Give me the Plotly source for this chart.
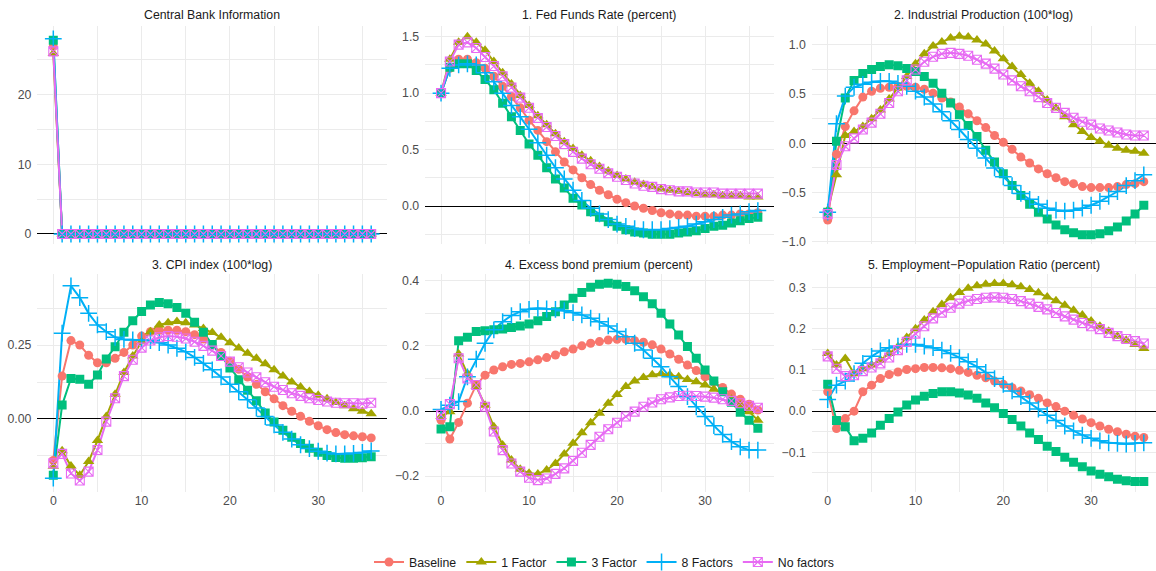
import plotly.graph_objects as go

# ---------------- data ----------------
horizon = list(range(37))
series_names = ["Baseline", "1 Factor", "3 Factor", "8 Factors", "No factors"]
panel_titles = ["Central Bank Information", "1. Fed Funds Rate (percent)",
                "2. Industrial Production (100*log)", "3. CPI index (100*log)",
                "4. Excess bond premium (percent)", "5. Employment\u2212Population Ratio (percent)"]

# Central Bank Information
cbi_base = [26.9, 0.0, 0.0, 0.0, 0.0, 0.0, 0.0, 0.0, 0.0, 0.0, 0.0, 0.0, 0.0, 0.0, 0.0, 0.0, 0.0, 0.0, 0.0,
            0.0, 0.0, 0.0, 0.0, 0.0, 0.0, 0.0, 0.0, 0.0, 0.0, 0.0, 0.0, 0.0, 0.0, 0.0, 0.0, 0.0, 0.0]
cbi_f1 = [25.9, 0.0, 0.0, 0.0, 0.0, 0.0, 0.0, 0.0, 0.0, 0.0, 0.0, 0.0, 0.0, 0.0, 0.0, 0.0, 0.0, 0.0, 0.0,
          0.0, 0.0, 0.0, 0.0, 0.0, 0.0, 0.0, 0.0, 0.0, 0.0, 0.0, 0.0, 0.0, 0.0, 0.0, 0.0, 0.0, 0.0]
cbi_f3 = [27.8, 0.0, 0.0, 0.0, 0.0, 0.0, 0.0, 0.0, 0.0, 0.0, 0.0, 0.0, 0.0, 0.0, 0.0, 0.0, 0.0, 0.0, 0.0,
          0.0, 0.0, 0.0, 0.0, 0.0, 0.0, 0.0, 0.0, 0.0, 0.0, 0.0, 0.0, 0.0, 0.0, 0.0, 0.0, 0.0, 0.0]
cbi_f8 = [28.0, 0.0, 0.0, 0.0, 0.0, 0.0, 0.0, 0.0, 0.0, 0.0, 0.0, 0.0, 0.0, 0.0, 0.0, 0.0, 0.0, 0.0, 0.0,
          0.0, 0.0, 0.0, 0.0, 0.0, 0.0, 0.0, 0.0, 0.0, 0.0, 0.0, 0.0, 0.0, 0.0, 0.0, 0.0, 0.0, 0.0]
cbi_nf = [26.2, 0.0, 0.0, 0.0, 0.0, 0.0, 0.0, 0.0, 0.0, 0.0, 0.0, 0.0, 0.0, 0.0, 0.0, 0.0, 0.0, 0.0, 0.0,
          0.0, 0.0, 0.0, 0.0, 0.0, 0.0, 0.0, 0.0, 0.0, 0.0, 0.0, 0.0, 0.0, 0.0, 0.0, 0.0, 0.0, 0.0]

# 1. Fed Funds Rate
ffr_base = [1.00, 1.22, 1.30, 1.30, 1.27, 1.22, 1.15, 1.06, 0.97, 0.87, 0.76, 0.67, 0.57, 0.48, 0.39, 0.32,
            0.25, 0.19, 0.14, 0.10, 0.06, 0.03, 0.00, -0.02, -0.04, -0.06, -0.07, -0.08, -0.08, -0.09,
            -0.09, -0.09, -0.08, -0.08, -0.07, -0.07, -0.06]
ffr_f1 = [1.00, 1.30, 1.45, 1.50, 1.45, 1.38, 1.28, 1.18, 1.08, 0.98, 0.89, 0.80, 0.72, 0.64, 0.57, 0.51,
          0.45, 0.40, 0.35, 0.31, 0.27, 0.24, 0.21, 0.19, 0.17, 0.15, 0.14, 0.13, 0.12, 0.11, 0.10, 0.10,
          0.09, 0.09, 0.09, 0.08, 0.08]
ffr_f3 = [1.00, 1.23, 1.26, 1.26, 1.20, 1.12, 1.03, 0.91, 0.79, 0.67, 0.55, 0.45, 0.34, 0.24, 0.16, 0.07,
          0.01, -0.05, -0.10, -0.14, -0.18, -0.21, -0.23, -0.24, -0.25, -0.25, -0.25, -0.24, -0.23, -0.22,
          -0.20, -0.18, -0.17, -0.15, -0.13, -0.11, -0.10]
ffr_f8 = [1.00, 1.22, 1.25, 1.26, 1.25, 1.18, 1.10, 1.00, 0.89, 0.79, 0.68, 0.56, 0.45, 0.34, 0.24, 0.14,
          0.05, -0.02, -0.07, -0.12, -0.16, -0.18, -0.20, -0.21, -0.21, -0.21, -0.20, -0.19, -0.18, -0.16,
          -0.14, -0.12, -0.10, -0.08, -0.07, -0.05, -0.04]
ffr_nf = [1.00, 1.28, 1.43, 1.45, 1.40, 1.32, 1.24, 1.15, 1.05, 0.96, 0.87, 0.78, 0.70, 0.62, 0.55, 0.48,
          0.42, 0.37, 0.33, 0.29, 0.26, 0.23, 0.20, 0.18, 0.17, 0.15, 0.14, 0.13, 0.13, 0.12, 0.12, 0.12,
          0.11, 0.11, 0.11, 0.11, 0.11]

# 2. Industrial Production
ip_base = [-0.78, -0.11, 0.17, 0.33, 0.47, 0.53, 0.56, 0.57, 0.58, 0.58, 0.57, 0.55, 0.51, 0.46, 0.42, 0.37,
           0.30, 0.23, 0.16, 0.08, 0.01, -0.06, -0.14, -0.20, -0.26, -0.31, -0.35, -0.39, -0.41, -0.44,
           -0.45, -0.45, -0.45, -0.44, -0.42, -0.41, -0.39]
ip_f1 = [-0.68, -0.32, 0.08, 0.12, 0.17, 0.25, 0.34, 0.45, 0.56, 0.68, 0.81, 0.91, 0.99, 1.03, 1.07, 1.09,
         1.08, 1.05, 1.01, 0.94, 0.86, 0.78, 0.70, 0.61, 0.53, 0.44, 0.36, 0.27, 0.19, 0.12, 0.06, 0.02,
         -0.02, -0.05, -0.07, -0.08, -0.10]
ip_f3 = [-0.70, 0.02, 0.46, 0.64, 0.71, 0.75, 0.78, 0.80, 0.79, 0.76, 0.73, 0.68, 0.61, 0.51, 0.41, 0.29,
         0.18, 0.07, -0.07, -0.19, -0.31, -0.43, -0.53, -0.62, -0.70, -0.77, -0.83, -0.88, -0.91, -0.93,
         -0.93, -0.92, -0.89, -0.85, -0.79, -0.72, -0.63]
ip_f8 = [-0.70, 0.20, 0.48, 0.57, 0.60, 0.62, 0.63, 0.63, 0.61, 0.58, 0.53, 0.47, 0.40, 0.32, 0.23, 0.14,
         0.04, -0.05, -0.15, -0.25, -0.34, -0.43, -0.51, -0.57, -0.62, -0.66, -0.68, -0.69, -0.68, -0.66,
         -0.63, -0.59, -0.54, -0.49, -0.43, -0.38, -0.32]
ip_nf = [-0.72, -0.22, -0.03, 0.05, 0.14, 0.21, 0.30, 0.41, 0.53, 0.64, 0.75, 0.83, 0.88, 0.91, 0.92, 0.91,
         0.89, 0.85, 0.81, 0.76, 0.70, 0.64, 0.58, 0.53, 0.47, 0.41, 0.36, 0.31, 0.26, 0.22, 0.19, 0.15,
         0.13, 0.11, 0.09, 0.08, 0.08]

# 3. CPI index
cpi_base = [-0.14, 0.145, 0.265, 0.25, 0.215, 0.19, 0.19, 0.205, 0.225, 0.25, 0.28, 0.295, 0.30, 0.30, 0.30,
            0.295, 0.285, 0.27, 0.25, 0.225, 0.195, 0.168, 0.142, 0.117, 0.092, 0.068, 0.045, 0.026, 0.009,
            -0.008, -0.023, -0.036, -0.046, -0.053, -0.057, -0.06, -0.064]
cpi_f1 = [-0.16, -0.107, -0.159, -0.19, -0.144, -0.073, 0.008, 0.084, 0.157, 0.213, 0.261, 0.295, 0.318,
          0.325, 0.329, 0.325, 0.318, 0.306, 0.292, 0.276, 0.258, 0.24, 0.222, 0.205, 0.187, 0.166, 0.145,
          0.125, 0.108, 0.093, 0.08, 0.068, 0.056, 0.045, 0.035, 0.026, 0.018]
cpi_f3 = [-0.19, 0.047, 0.137, 0.134, 0.117, 0.149, 0.203, 0.244, 0.293, 0.332, 0.363, 0.385, 0.394, 0.389,
          0.377, 0.357, 0.327, 0.293, 0.252, 0.213, 0.172, 0.133, 0.097, 0.062, 0.02, -0.01, -0.038, -0.062,
          -0.083, -0.099, -0.112, -0.123, -0.13, -0.133, -0.133, -0.131, -0.128]
cpi_f8 = [-0.20, 0.29, 0.45, 0.41, 0.357, 0.318, 0.295, 0.276, 0.269, 0.267, 0.267, 0.265, 0.258, 0.25,
          0.239, 0.227, 0.208, 0.188, 0.166, 0.142, 0.117, 0.092, 0.065, 0.037, 0.008, -0.02, -0.045,
          -0.068, -0.087, -0.1, -0.109, -0.115, -0.118, -0.118, -0.116, -0.113, -0.108]
cpi_nf = [-0.15, -0.118, -0.184, -0.208, -0.178, -0.105, -0.009, 0.07, 0.145, 0.2, 0.241, 0.265, 0.276, 0.28,
          0.278, 0.272, 0.261, 0.247, 0.231, 0.213, 0.194, 0.175, 0.157, 0.141, 0.124, 0.109, 0.098, 0.087,
          0.078, 0.07, 0.064, 0.059, 0.055, 0.053, 0.053, 0.052, 0.055]

# 4. Excess bond premium
ebp_base = [-0.028, -0.086, -0.035, 0.024, 0.08, 0.11, 0.126, 0.136, 0.143, 0.146, 0.151, 0.157, 0.164,
            0.172, 0.182, 0.19, 0.2, 0.208, 0.213, 0.218, 0.22, 0.22, 0.216, 0.211, 0.203, 0.19, 0.175,
            0.159, 0.141, 0.124, 0.105, 0.088, 0.072, 0.052, 0.036, 0.021, 0.003]
ebp_f1 = [-0.017, -0.002, 0.175, 0.114, 0.075, 0.018, -0.048, -0.104, -0.15, -0.179, -0.191, -0.193, -0.181,
          -0.161, -0.132, -0.099, -0.067, -0.036, -0.007, 0.024, 0.051, 0.075, 0.092, 0.103, 0.111, 0.114,
          0.111, 0.105, 0.097, 0.09, 0.08, 0.067, 0.054, 0.036, 0.018, -0.002, -0.028]
ebp_f3 = [-0.055, -0.048, 0.216, 0.226, 0.244, 0.246, 0.249, 0.252, 0.256, 0.261, 0.267, 0.277, 0.29, 0.305,
          0.325, 0.346, 0.364, 0.38, 0.389, 0.392, 0.389, 0.382, 0.369, 0.351, 0.329, 0.3, 0.267, 0.233,
          0.198, 0.162, 0.126, 0.092, 0.059, 0.027, -0.004, -0.028, -0.053]
ebp_f8 = [0.005, 0.018, 0.029, 0.105, 0.159, 0.208, 0.249, 0.274, 0.293, 0.305, 0.312, 0.315, 0.313, 0.312,
          0.308, 0.302, 0.295, 0.285, 0.274, 0.261, 0.244, 0.228, 0.208, 0.187, 0.162, 0.136, 0.105, 0.075,
          0.044, 0.013, -0.017, -0.045, -0.072, -0.094, -0.11, -0.12, -0.12]
ebp_nf = [-0.012, 0.021, 0.162, 0.1, 0.08, 0.013, -0.063, -0.12, -0.161, -0.186, -0.205, -0.212, -0.207,
          -0.193, -0.176, -0.153, -0.128, -0.104, -0.079, -0.056, -0.036, -0.017, -0.002, 0.013, 0.026,
          0.036, 0.042, 0.046, 0.047, 0.046, 0.044, 0.041, 0.036, 0.031, 0.024, 0.016, 0.01]

# 5. Employment-Population Ratio
emp_base = [0.047, -0.042, -0.018, 0.0, 0.047, 0.063, 0.079, 0.089, 0.095, 0.101, 0.103, 0.106, 0.106,
            0.105, 0.103, 0.099, 0.094, 0.087, 0.081, 0.073, 0.065, 0.057, 0.049, 0.04, 0.031, 0.02, 0.011,
            0.0, -0.01, -0.019, -0.028, -0.036, -0.044, -0.05, -0.056, -0.061, -0.064]
emp_f1 = [0.14, 0.112, 0.128, 0.091, 0.103, 0.112, 0.124, 0.14, 0.156, 0.179, 0.2, 0.221, 0.241, 0.259,
          0.275, 0.288, 0.298, 0.304, 0.308, 0.31, 0.31, 0.307, 0.302, 0.295, 0.287, 0.277, 0.268, 0.257,
          0.245, 0.233, 0.219, 0.206, 0.194, 0.182, 0.172, 0.162, 0.152]
emp_f3 = [0.065, -0.023, -0.038, -0.072, -0.066, -0.053, -0.034, -0.018, -0.002, 0.015, 0.027, 0.036, 0.043,
          0.047, 0.047, 0.044, 0.039, 0.031, 0.02, 0.008, -0.006, -0.02, -0.036, -0.053, -0.069, -0.085,
          -0.098, -0.112, -0.124, -0.135, -0.145, -0.153, -0.159, -0.165, -0.169, -0.171, -0.171]
emp_f8 = [0.028, 0.063, 0.073, 0.091, 0.116, 0.133, 0.146, 0.154, 0.158, 0.162, 0.162, 0.158, 0.154, 0.148,
          0.14, 0.13, 0.12, 0.108, 0.094, 0.079, 0.065, 0.049, 0.035, 0.02, 0.005, -0.01, -0.023, -0.036,
          -0.048, -0.058, -0.066, -0.072, -0.077, -0.078, -0.08, -0.078, -0.077]
emp_nf = [0.133, 0.103, 0.085, 0.087, 0.097, 0.106, 0.116, 0.13, 0.148, 0.168, 0.188, 0.206, 0.225, 0.239,
          0.251, 0.261, 0.268, 0.272, 0.275, 0.276, 0.275, 0.272, 0.267, 0.261, 0.253, 0.247, 0.238, 0.23,
          0.222, 0.214, 0.206, 0.199, 0.19, 0.182, 0.175, 0.17, 0.164]

# tick labels
x_tick_vals = [0, 10, 20, 30]
x_tick_text = ["0", "10", "20", "30"]
x_minor_vals = [5, 15, 25, 35]
y_tick_vals = [[0, 10, 20], [0, 0.5, 1.0, 1.5], [-1.0, -0.5, 0.0, 0.5, 1.0],
               [0.0, 0.25], [-0.2, 0.0, 0.2, 0.4], [-0.1, 0.0, 0.1, 0.2, 0.3]]
y_tick_text = [["0", "10", "20"], ["0.0", "0.5", "1.0", "1.5"],
               ["\u22121.0", "\u22120.5", "0.0", "0.5", "1.0"],
               ["0.00", "0.25"], ["\u22120.2", "0.0", "0.2", "0.4"],
               ["\u22120.1", "0.0", "0.1", "0.2", "0.3"]]
y_minor_vals = [[5, 15, 25], [-0.25, 0.25, 0.75, 1.25], [-0.75, -0.25, 0.25, 0.75],
                [-0.125, 0.125, 0.375], [-0.1, 0.1, 0.3], [-0.15, -0.05, 0.05, 0.15, 0.25]]

panel_data = [
    [cbi_base, cbi_f1, cbi_f3, cbi_f8, cbi_nf],
    [ffr_base, ffr_f1, ffr_f3, ffr_f8, ffr_nf],
    [ip_base, ip_f1, ip_f3, ip_f8, ip_nf],
    [cpi_base, cpi_f1, cpi_f3, cpi_f8, cpi_nf],
    [ebp_base, ebp_f1, ebp_f3, ebp_f8, ebp_nf],
    [emp_base, emp_f1, emp_f3, emp_f8, emp_nf],
]

# ---------------- styles / layout geometry ----------------
W, H = 1156, 571
colors = ["#F8766D", "#A3A500", "#00BF7D", "#00B0F6", "#E76BF3"]
symbols = ["circle", "triangle-up", "square", "cross-thin", "square-x-open"]
msizes = [9, 10, 9, 12, 9]
mlinew = [0, 0, 0, 1.5, 1.1]

col_px = [(37.4, 387.1), (425.2, 773.7), (811.9, 1156.0)]
col_rng = [(-1.8, 37.8), (-1.8, 37.8), (-1.8, 37.39)]
row_px = [(26.3, 244.3), (273.5, 491.5)]
y_rng = [(-1.48, 29.8), (-0.339, 1.592), (-1.027, 1.190),
         (-0.245, 0.4916), (-0.247, 0.422), (-0.195, 0.334)]
title_y_px = [15.5, 265.0]

FONT = "Liberation Sans, Arial, Helvetica, sans-serif"
GRID = "#EBEBEB"

fig = go.Figure()
layout = dict(width=W, height=H, margin=dict(l=0, r=0, t=0, b=0, pad=0, autoexpand=False),
              paper_bgcolor="white", plot_bgcolor="white",
              font=dict(family=FONT, size=12.3, color="#4D4D4D"),
              showlegend=True)
annotations = []

for p in range(6):
    r, c = divmod(p, 3)
    sfx = "" if p == 0 else str(p + 1)
    xa, ya = "x" + sfx, "y" + sfx
    x0, x1 = col_px[c]
    yt, yb = row_px[r]
    layout["xaxis" + sfx] = dict(
        domain=[x0 / W, x1 / W], range=list(col_rng[c]), anchor=ya,
        tickmode="array", tickvals=x_tick_vals, ticktext=x_tick_text,
        showticklabels=(r == 1), ticks="", showline=False, zeroline=False,
        showgrid=True, gridcolor=GRID, gridwidth=1.1,
        minor=dict(tickmode="array", tickvals=x_minor_vals, showgrid=True, gridcolor=GRID, gridwidth=0.6, ticks=""),
        tickfont=dict(size=12.3, color="#4D4D4D"), fixedrange=True)
    layout["yaxis" + sfx] = dict(
        domain=[1 - yb / H, 1 - yt / H], range=list(y_rng[p]), anchor=xa,
        tickmode="array", tickvals=y_tick_vals[p], ticktext=y_tick_text[p],
        ticks="", showline=False, zeroline=True, zerolinecolor="black", zerolinewidth=1.1,
        showgrid=True, gridcolor=GRID, gridwidth=1.1,
        minor=dict(tickmode="array", tickvals=y_minor_vals[p], showgrid=True, gridcolor=GRID, gridwidth=0.6, ticks=""),
        tickfont=dict(size=12.3, color="#4D4D4D"), ticklabelstandoff=5, fixedrange=True)
    annotations.append(dict(text=panel_titles[p], x=(x0 + x1) / 2 / W, y=1 - title_y_px[r] / H,
                            xref="paper", yref="paper", xanchor="center", yanchor="middle",
                            showarrow=False, font=dict(family=FONT, size=12.3, color="#1A1A1A")))

    # lines first (as in geom_line), then points (geom_point)
    for s in range(5):
        fig.add_trace(go.Scatter(x=horizon, y=panel_data[p][s], mode="lines", xaxis=xa, yaxis=ya,
                                 line=dict(color=colors[s], width=2), showlegend=False,
                                 hoverinfo="skip"))
    for s in range(5):
        fig.add_trace(go.Scatter(x=horizon, y=panel_data[p][s], mode="markers", xaxis=xa, yaxis=ya,
                                 marker=dict(symbol=symbols[s], size=msizes[s], color=colors[s],
                                             line=dict(width=mlinew[s], color=colors[s])),
                                 showlegend=False, name=series_names[s]))

# legend keys (line + point), attached to first panel without data
for s in range(5):
    fig.add_trace(go.Scatter(x=[None], y=[None], mode="lines+markers", xaxis="x", yaxis="y",
                             name=series_names[s],
                             line=dict(color=colors[s], width=2),
                             marker=dict(symbol=symbols[s], size=msizes[s], color=colors[s],
                                         line=dict(width=mlinew[s], color=colors[s]))))

layout["annotations"] = annotations
layout["legend"] = dict(orientation="h", x=604 / W, xanchor="center", y=1 - 562 / H, yanchor="middle",
                        font=dict(family=FONT, size=12.3, color="#1A1A1A"), bgcolor="rgba(0,0,0,0)",
                        itemwidth=30)
fig.update_layout(**layout)
fig.write_html("out.html")
